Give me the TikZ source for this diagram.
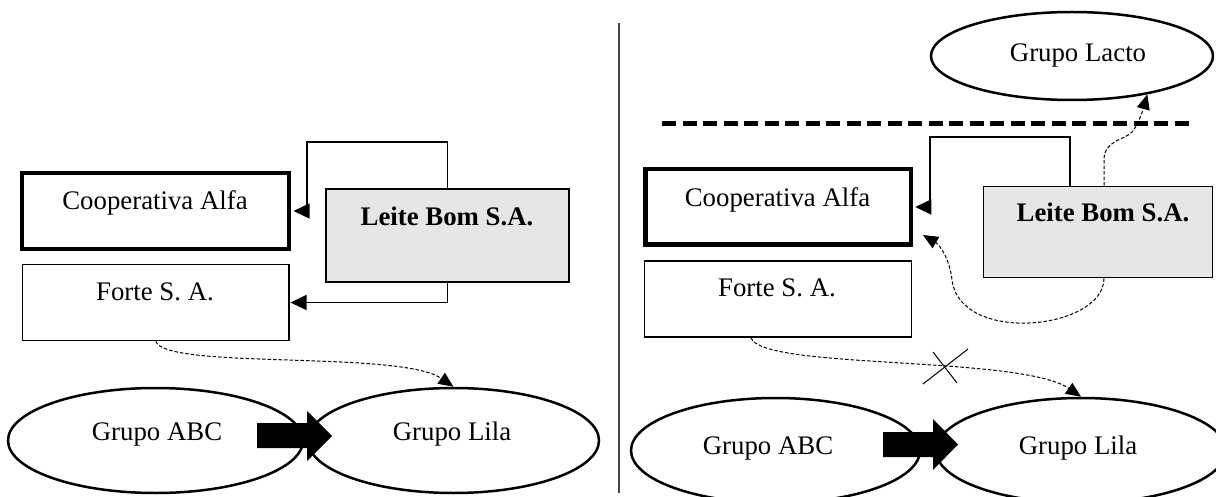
\documentclass[tikz,border=0pt]{standalone}
\usepackage{fontspec}
\setmainfont{Liberation Serif}
\usetikzlibrary{arrows.meta,shapes.geometric,calc}
\definecolor{boxgray}{HTML}{E6E6E6}
\definecolor{divgray}{HTML}{444444}
\begin{document}
\begin{tikzpicture}[x=1pt,y=-1pt,
  thinbox/.style={draw, line width=1.5pt, inner sep=0pt, rectangle},
  thickbox/.style={draw, line width=4.5pt, inner sep=0pt, rectangle},
  graybox/.style={draw, line width=1.5pt, inner sep=0pt, rectangle, fill=boxgray},
  oval/.style={draw, line width=2.5pt, ellipse, inner sep=0pt},
  lbl/.style={anchor=base, inner sep=0pt, font=\fontsize{26.8pt}{32pt}\selectfont},
  conn/.style={line width=1.3pt, -{Triangle[length=16pt,width=15pt]}},
  dconn/.style={line width=1pt, dash pattern=on 3.5pt off 2pt, -{Triangle[length=15pt,width=13pt]}},
  bigarrow/.style={fill=black}
]
\useasboundingbox (0,0) rectangle (1216,497);

% divider
\coordinate (divtop) at (619,23);
\coordinate (divbot) at (619,493);
\draw[divgray, line width=1.2pt] (divtop) -- (divbot);

% ---------------- left panel ----------------
\node[thickbox, minimum width=267pt, minimum height=76pt] (coopL) at (155.5,211) {};
\node[thinbox, minimum width=266.5pt, minimum height=76pt] (forteL) at (155.75,302.5) {};
\node[graybox, minimum width=243pt, minimum height=93pt] (leiteL) at (447.5,235.5) {};
\node[lbl] (coopLt) at (155,210) {Cooperativa Alfa};
\node[lbl] (forteLt) at (155,300) {Forte S. A.};
\node[lbl, font=\fontsize{26.8pt}{32pt}\selectfont\bfseries] (leiteLt) at (447,226) {Leite Bom S.A.};

\draw[conn] (leiteL.north) |- (307,142) |- ([xshift=2.25pt]coopL.east);
\draw[conn] (leiteL.south) |- ([xshift=0.75pt]forteL.east);

\node[oval, minimum width=295pt, minimum height=105pt] (abcL) at (155.5,440.5) {};
\node[oval, minimum width=291pt, minimum height=105pt] (lilaL) at (453.5,440.5) {};
\node[lbl] (abcLt) at (157,440) {Grupo ABC};
\node[lbl] (lilaLt) at (452,440) {Grupo Lila};
\fill[bigarrow] (257,423) -- (307,423) -- (307,411) -- (332,436) -- (307,461) -- (307,448) -- (257,448) -- cycle;

\draw[dconn] (forteL.south) .. controls (165,370) and (400,350) .. (lilaL.north);

% ---------------- right panel ----------------
\node[oval, minimum width=282pt, minimum height=88pt] (lactoR) at (1072,56) {};
\node[lbl] (lactoRt) at (1078,62) {Grupo Lacto};

\coordinate (sepA) at (662,124);
\coordinate (sepB) at (1190,124);
\draw[line width=5pt, dash pattern=on 14pt off 6.5pt] (sepA) -- (sepB);

\node[thickbox, minimum width=265.5pt, minimum height=75.5pt] (coopR) at (778,207) {};
\node[thinbox, minimum width=267pt, minimum height=75.5pt] (forteR) at (778,299) {};
\node[graybox, minimum width=229pt, minimum height=91pt] (leiteR) at (1098,232) {};
\node[lbl] (coopRt) at (777.5,207) {Cooperativa Alfa};
\node[lbl] (forteRt) at (777,297) {Forte S. A.};
\node[lbl, font=\fontsize{26.8pt}{32pt}\selectfont\bfseries] (leiteRt) at (1103,222) {Leite Bom S.A.};

\draw[conn] ([xshift=-28pt]leiteR.north) |- (930,137) |- ([xshift=2.25pt]coopR.east);

\draw[dconn] ([xshift=6pt]leiteR.north) -- (1104,160) .. controls (1104,140) and (1125,140) .. (1132,132) .. controls (1138,125) and (1143,110) .. (lactoR.-27);

\coordinate (coopTip) at (923,235);
\draw[dconn] ([xshift=6pt]leiteR.south) .. controls (1104,330) and (960,345) .. (952,280) .. controls (950,260) and (940,245) .. (coopTip);

\node[oval, minimum width=289pt, minimum height=105pt] (abcR) at (775.5,450.5) {};
\node[oval, minimum width=290pt, minimum height=105pt] (lilaR) at (1081,450.5) {};
\node[lbl] (abcRt) at (768,454) {Grupo ABC};
\node[lbl] (lilaRt) at (1078,454) {Grupo Lila};
\fill[bigarrow] (883,432) -- (933,432) -- (933,419) -- (958,444.5) -- (933,470) -- (933,457) -- (883,457) -- cycle;

\draw[dconn] ([xshift=-27pt]forteR.south) .. controls (760,370) and (1020,355) .. (lilaR.north);

% cross mark
\coordinate (xa1) at (923,384);
\coordinate (xa2) at (968,349);
\coordinate (xb1) at (933,352);
\coordinate (xb2) at (957,383);
\draw[line width=1pt] (xa1) -- (xa2);
\draw[line width=1pt] (xb1) -- (xb2);
\end{tikzpicture}
\end{document}
